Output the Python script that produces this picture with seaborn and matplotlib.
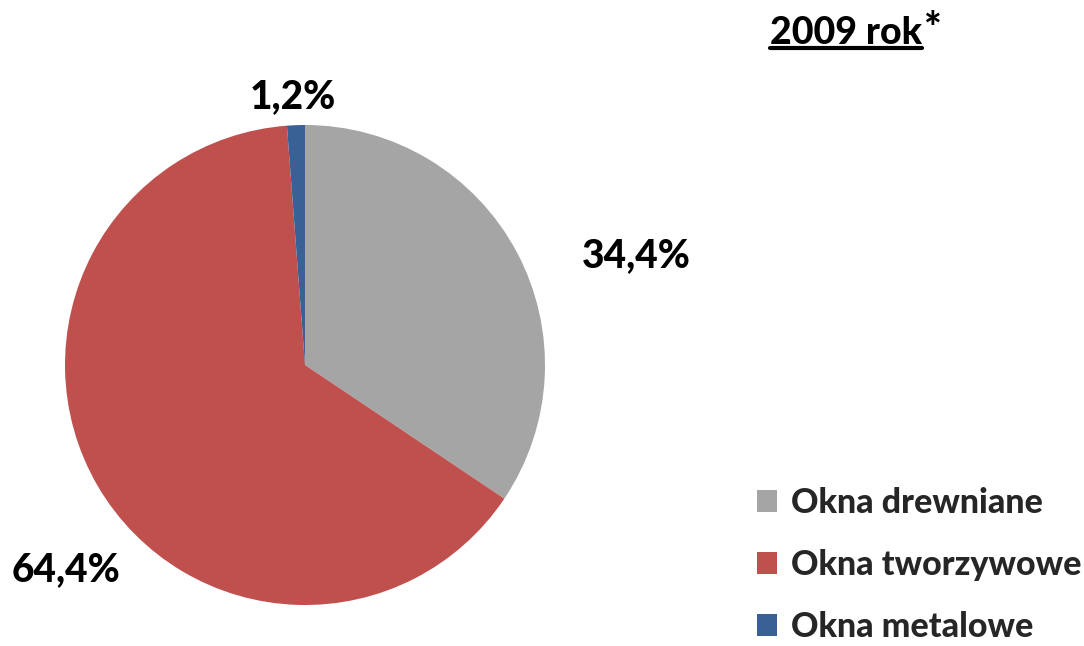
import matplotlib
matplotlib.use("Agg")
import matplotlib.pyplot as plt
import seaborn as sns
from matplotlib.lines import Line2D
from matplotlib.patches import Patch

# Data
categories = ["Okna drewniane", "Okna tworzywowe", "Okna metalowe"]
shares = [34.4, 64.4, 1.2]
share_labels = ["34,4%", "64,4%", "1,2%"]
colors = ["#A5A5A5", "#C0504D", "#3A6195"]
title_main = "2009 rok"

sns.set_theme(style="white")
plt.rcParams['font.family'] = ['Lato', 'DejaVu Sans']
WEIGHT = 900

W, H = 1084, 646
fig = plt.figure(figsize=(W / 100, H / 100), dpi=100)
fig.patch.set_facecolor("white")

# pie axes: centre (305, 365), radius 240 px
cx, cy, r = 305, 365, 240
ax = fig.add_axes([(cx - r) / W, 1 - (cy + r) / H, 2 * r / W, 2 * r / H])
wedges, _ = ax.pie(shares, colors=colors, startangle=90, counterclock=False,
                   radius=1, wedgeprops=dict(linewidth=0))
ax.set_xlim(-1, 1)
ax.set_ylim(-1, 1)
ax.set_aspect("auto")
ax.axis("off")

# percentage labels (pixel positions of label centres)
label_pos = [(636, 256), (66, 570), (293, 97)]
for txt, (px, py) in zip(share_labels, label_pos):
    fig.text(px / W, 1 - py / H, txt, ha="center", va="center",
             fontsize=28, fontweight=WEIGHT, color="black")

# title with underline on "2009 rok"
t = fig.text(770 / W, 1 - 33 / H, title_main, ha="left", va="center",
             fontsize=27, fontweight=WEIGHT, color="black")
fig.canvas.draw()
bb = t.get_window_extent()
fig.text(bb.x1 / W + 0.001, 1 - 30 / H, "*", ha="left", va="center",
         fontsize=30, fontweight=WEIGHT, color="black")
fig.add_artist(Line2D([bb.x0 / W, bb.x1 / W], [1 - 48 / H, 1 - 48 / H],
                      transform=fig.transFigure, color="black", linewidth=3))

# legend
handles = [Patch(facecolor=c, edgecolor="none") for c in colors]
leg = fig.legend(handles, categories, loc="upper left",
                 bbox_to_anchor=(757 / W, 1 - 487 / H), frameon=False,
                 prop=dict(family=['Lato', 'DejaVu Sans'], weight=WEIGHT, size=24.5),
                 handlelength=0.6, handleheight=0.6, handletextpad=0.4,
                 labelspacing=0.88, borderpad=0, borderaxespad=0)

fig.savefig("out.png", dpi=100, facecolor="white")
